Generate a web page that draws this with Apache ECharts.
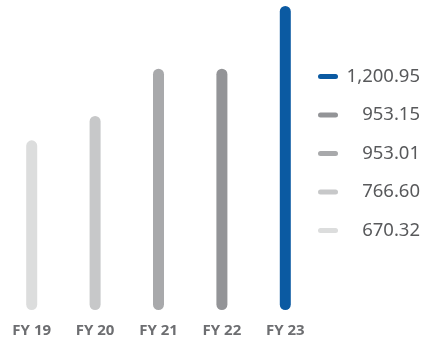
<!DOCTYPE html>
<html>
<head>
<meta charset="utf-8">
<script src="https://cdn.jsdelivr.net/npm/echarts@6/dist/echarts.min.js"></script>
<style>
  html, body { margin: 0; padding: 0; background: #ffffff; }
  #chart { width: 423px; height: 345px; }
</style>
</head>
<body>
<div id="chart"></div>
<script>
// Fiscal years and their values
const categories = ['FY 19', 'FY 20', 'FY 21', 'FY 22', 'FY 23'];
const values = [670.32, 766.60, 953.01, 953.15, 1200.95];
const colors = ['#dcdddd', '#c7c8c9', '#a8a9ab', '#939497', '#0b5aa2'];

const fmt = v => v.toLocaleString('en-US', { minimumFractionDigits: 2, maximumFractionDigits: 2 });

// One series per year so each gets its own legend entry; stacked so they share a slot
const series = categories.map((c, i) => ({
  name: fmt(values[i]),
  type: 'bar',
  stack: 'fy',
  barWidth: 11,
  itemStyle: { color: colors[i], borderRadius: 5.5 },
  data: categories.map((_, j) => (j === i ? values[i] : null))
}));

const chart = echarts.init(document.getElementById('chart'));
chart.setOption({
  animation: false,
  grid: { left: -4, width: 321, top: 6, bottom: 35 },
  xAxis: {
    type: 'category',
    data: categories,
    axisLine: { show: false },
    axisTick: { show: false },
    axisLabel: {
      margin: 13,
      color: '#6d6e71',
      fontFamily: 'Noto Sans',
      fontWeight: 'bold',
      fontSize: 15
    }
  },
  yAxis: {
    type: 'value',
    min: 0,
    max: Math.max(...values),
    show: false,
    splitLine: { show: false }
  },
  legend: {
    orient: 'vertical',
    left: 313,
    top: 62,
    itemWidth: 20,
    itemHeight: 5,
    itemGap: 19.5,
    icon: 'path://M2.5,0 H17.5 A2.5,2.5 0 0 1 17.5,5 H2.5 A2.5,2.5 0 0 1 2.5,0 Z',
    data: series.map(s => s.name).reverse(),
    formatter: n => '{v|' + n + '}',
    textStyle: {
      rich: {
        v: {
          width: 77,
          align: 'right',
          color: '#58595b',
          fontFamily: 'Noto Sans',
          fontSize: 18.5,
          lineHeight: 20
        }
      }
    }
  },
  series: series
});
</script>
</body>
</html>
